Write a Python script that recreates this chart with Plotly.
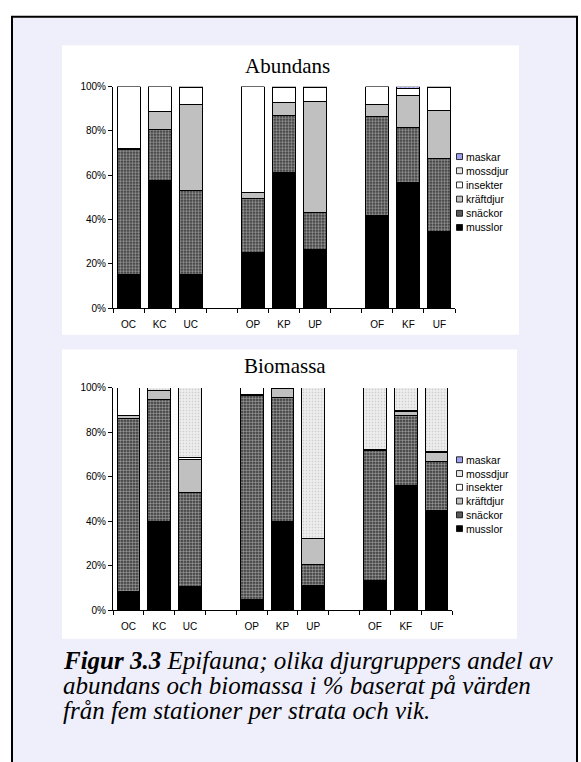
import plotly.graph_objects as go

W, H = 581, 762

categories = ["OC", "KC", "UC", "", "OP", "KP", "UP", "", "OF", "KF", "UF"]
series_names = ["musslor", "snäckor", "kräftdjur", "insekter", "mossdjur", "maskar"]
y_ticks = [0, 20, 40, 60, 80, 100]
y_tick_labels = ["0%", "20%", "40%", "60%", "80%", "100%"]

# Abundans (% per group), None = empty gap slot
ab_musslor   = [15.0, 57.5, 15.3, None, 25.2, 61.3, 26.7, None, 41.9, 56.6, 34.5]
ab_snackor   = [56.7, 23.1, 37.7, None, 24.3, 25.5, 16.6, None, 44.5, 25.2, 32.9]
ab_kraftdjur = [0.4, 8.0, 38.9, None, 2.8, 6.2, 50.0, None, 5.6, 14.2, 21.9]
ab_insekter  = [27.9, 11.4, 7.6, None, 47.7, 6.7, 6.2, None, 8.0, 3.3, 10.4]
ab_mossdjur  = [0, 0, 0, None, 0, 0, 0, None, 0, 0, 0]
ab_maskar    = [0, 0, 0.5, None, 0, 0.3, 0.5, None, 0, 0.7, 0.3]

# Biomassa
bi_musslor   = [8.6, 39.8, 10.8, None, 4.7, 40.1, 11.0, None, 13.4, 56.3, 44.7]
bi_snackor   = [77.7, 54.9, 42.3, None, 91.9, 55.5, 9.8, None, 58.6, 31.5, 22.4]
bi_kraftdjur = [1.3, 4.1, 14.9, None, 0.3, 4.0, 11.4, None, 0.3, 1.6, 3.7]
bi_insekter  = [12.4, 0.2, 0.6, None, 3.1, 0.4, 0.3, None, 0.2, 0.4, 0.6]
bi_mossdjur  = [0, 1.0, 31.4, None, 0, 0, 67.5, None, 27.5, 10.2, 28.6]
bi_maskar    = [0, 0, 0, None, 0, 0, 0, None, 0, 0, 0]

abundans = [ab_musslor, ab_snackor, ab_kraftdjur, ab_insekter, ab_mossdjur, ab_maskar]
biomassa = [bi_musslor, bi_snackor, bi_kraftdjur, bi_insekter, bi_mossdjur, bi_maskar]

caption_lines = [
    "<b><i>Figur 3.3</i></b><i> Epifauna; olika djurgruppers andel av</i>",
    "<i>abundans och biomassa i % baserat på värden</i>",
    "<i>från fem stationer per strata och vik.</i>",
]

styles = {
    "musslor":   dict(color="black"),
    "snäckor":   dict(color="#333333", pattern=dict(shape=".", fgcolor="white", bgcolor="#2A2A2A", size=3, solidity=0.6)),
    "kräftdjur": dict(color="#C0C0C0"),
    "insekter":  dict(color="white"),
    "mossdjur":  dict(color="#EBEBEB", pattern=dict(shape=".", fgcolor="#A8A8A8", bgcolor="#EEEEEE", size=3, solidity=0.25)),
    "maskar":    dict(color="#9999FF", pattern=dict(shape="/", fgcolor="#6666CC", bgcolor="#C8C8FF", size=3, solidity=0.4)),
}
swatch_colors = {"musslor": "black", "snäckor": "#5A5A5A", "kräftdjur": "#C0C0C0",
                 "insekter": "white", "mossdjur": "#E6E6E6", "maskar": "#A0A0F0"}

def px(x):
    return x / W

def py(y):
    return 1 - y / H

xs = list(range(len(categories)))
fig = go.Figure()
for data, xa, ya in [(abundans, "x", "y"), (biomassa, "x2", "y2")]:
    for name, vals in zip(series_names, data):
        st = styles[name]
        marker = dict(color=st["color"], line=dict(color="black", width=1))
        if "pattern" in st:
            marker["pattern"] = st["pattern"]
        fig.add_trace(go.Bar(x=xs, y=vals, name=name, xaxis=xa, yaxis=ya,
                             marker=marker, showlegend=False, hoverinfo="skip"))

tickfont = dict(family="Liberation Sans, Arial, sans-serif", size=10, color="black")
minor_vals = [i - 0.5 for i in range(len(categories) + 1)]

def xaxis_cfg(domain, anchor):
    return dict(domain=domain, anchor=anchor, range=[-0.5, len(categories) - 0.5],
                tickmode="array", tickvals=xs, ticktext=categories, ticks="",
                ticklabelstandoff=7,
                minor=dict(tickmode="array", tickvals=minor_vals, ticks="outside",
                           ticklen=4, tickcolor="black", tickwidth=1, showgrid=False),
                showline=True, linecolor="black", linewidth=1, showgrid=False,
                zeroline=False, tickfont=tickfont, fixedrange=True)

def yaxis_cfg(domain, anchor):
    return dict(domain=domain, anchor=anchor, range=[0, 100], tickmode="array",
                tickvals=y_ticks, ticktext=y_tick_labels, ticks="outside", ticklen=4,
                tickcolor="black", showline=True, linecolor="black", linewidth=1,
                showgrid=False, zeroline=False, tickfont=tickfont, fixedrange=True)

shapes = [
    # lavender page inside the frame
    dict(type="rect", xref="paper", yref="paper", x0=px(12), x1=px(577), y0=py(775), y1=py(11),
         fillcolor="#EFEFFB", line=dict(width=0), layer="below"),
    # white panels
    dict(type="rect", xref="paper", yref="paper", x0=px(62), x1=px(519), y0=py(334), y1=py(40),
         fillcolor="white", line=dict(width=0), layer="below"),
    dict(type="rect", xref="paper", yref="paper", x0=px(62), x1=px(517), y0=py(643), y1=py(349),
         fillcolor="white", line=dict(width=0), layer="below"),
    # outer frame
    dict(type="rect", xref="paper", yref="paper", x0=px(12), x1=px(577), y0=py(775), y1=py(11),
         fillcolor="rgba(0,0,0,0)", line=dict(color="black", width=2), layer="above"),
]

serif = "Liberation Serif, Times New Roman, serif"
annotations = [
    dict(text="Abundans", x=px(287), y=py(61), xref="paper", yref="paper", showarrow=False,
         xanchor="center", yanchor="middle", font=dict(family=serif, size=21, color="black")),
    dict(text="Biomassa", x=px(285), y=py(366), xref="paper", yref="paper", showarrow=False,
         xanchor="center", yanchor="middle", font=dict(family=serif, size=21, color="black")),
]
for i, line in enumerate(caption_lines):
    annotations.append(dict(text=line, x=px(61), y=py(665 + i * 25.5), xref="paper", yref="paper",
                            showarrow=False, xanchor="left", yanchor="middle", align="left",
                            font=dict(family=serif, size=25, color="black")))

# custom legends (top to bottom: maskar ... musslor)
for top_y, step in [(153, 14.4), (461, 14.0)]:
    for i, name in enumerate(reversed(series_names)):
        cy = top_y + i * step
        shapes.append(dict(type="rect", xref="paper", yref="paper",
                           x0=px(456.5), x1=px(462.5), y0=py(cy + 3), y1=py(cy - 3),
                           fillcolor=swatch_colors[name], line=dict(color="black", width=0.8)))
        annotations.append(dict(text=name, x=px(463.5), y=py(cy), xref="paper", yref="paper",
                                showarrow=False, xanchor="left", yanchor="middle",
                                font=dict(family="Liberation Sans, Arial, sans-serif", size=10.5,
                                          color="black")))

fig.update_layout(
    width=W, height=H, margin=dict(l=0, r=0, t=0, b=0),
    paper_bgcolor="white", plot_bgcolor="rgba(0,0,0,0)",
    barmode="stack", bargap=0.26, showlegend=False, hovermode=False,
    xaxis=xaxis_cfg([px(113), px(455)], "y"),
    yaxis=yaxis_cfg([py(307), py(82)], "x"),
    xaxis2=xaxis_cfg([px(113), px(452)], "y2"),
    yaxis2=yaxis_cfg([py(614), py(388)], "x2"),
    shapes=shapes, annotations=annotations,
)

fig.write_html("out.html", config={"displayModeBar": False},
               post_script="document.body.style.margin='0';document.body.style.overflow='hidden';")
